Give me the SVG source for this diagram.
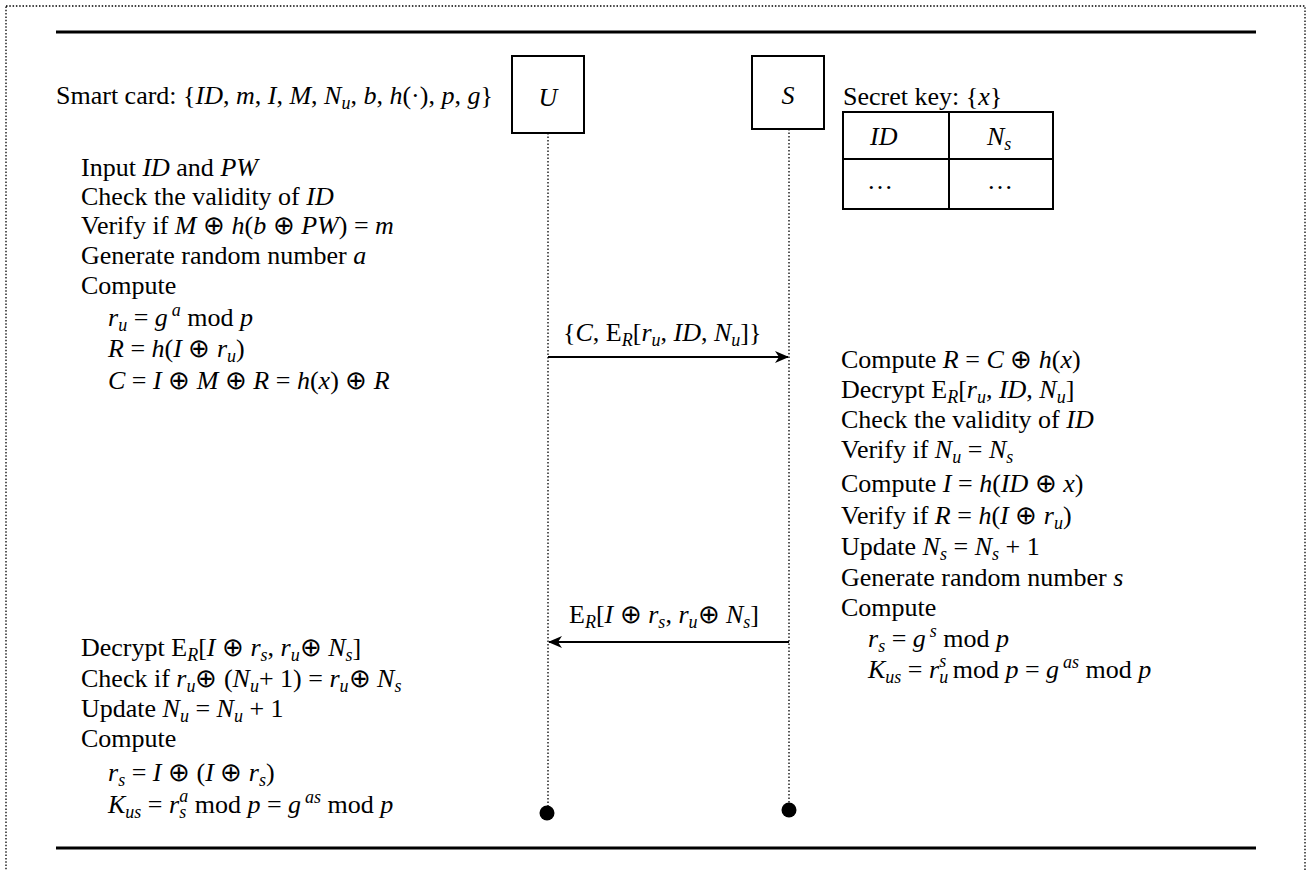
<svg xmlns="http://www.w3.org/2000/svg" width="1308" height="870" viewBox="0 0 1308 870">
<defs>
<style>
text{font-family:"Liberation Serif","Times New Roman",serif;font-size:26px;fill:#000}
.i{font-style:italic}
.s{font-size:18px}
.box{fill:#fff;stroke:#000;stroke-width:2}
.life{stroke:#000;stroke-width:1.3;stroke-dasharray:1.5 2;fill:none}
.msg{stroke:#000;stroke-width:2;fill:none}
.rule{stroke:#000;stroke-width:2.8}
</style>
<marker id="ah" viewBox="0 0 14 12" refX="13" refY="6" markerWidth="14" markerHeight="12" markerUnits="userSpaceOnUse" orient="auto">
<path d="M0,0 L14,6 L0,12 L4,6 Z" fill="#000"/>
</marker>
</defs>
<rect width="1308" height="870" fill="#fff"/>
<rect x="6" y="6" width="1299" height="880" fill="none" stroke="#000" stroke-width="1.3" stroke-dasharray="1.5 1.8"/>
<line class="rule" x1="56" y1="32" x2="1256" y2="32"/>
<line class="rule" x1="56" y1="848" x2="1256" y2="848"/>

<g id="connectors">
<line class="life" x1="548" y1="133" x2="548" y2="806"/>
<line class="life" x1="789" y1="129" x2="789" y2="803"/>
<line class="msg" x1="548" y1="357" x2="788" y2="357" marker-end="url(#ah)"/>
<line class="msg" x1="789" y1="642" x2="549" y2="642" marker-end="url(#ah)"/>
<circle cx="547" cy="813" r="7.5" fill="#000"/>
<circle cx="789" cy="810" r="7.5" fill="#000"/>
<text x="563" y="341">{<tspan class="i">C</tspan>, E<tspan class="i s" dy="5">R</tspan><tspan dy="-5">[</tspan><tspan class="i">r</tspan><tspan class="i s" dy="5">u</tspan><tspan dy="-5">, </tspan><tspan class="i">ID</tspan>, <tspan class="i">N</tspan><tspan class="i s" dy="5">u</tspan><tspan dy="-5">]}</tspan></text>
<text x="569" y="623">E<tspan class="i s" dy="5">R</tspan><tspan dy="-5">[</tspan><tspan class="i">I</tspan> ⊕ <tspan class="i">r</tspan><tspan class="i s" dy="5">s</tspan><tspan dy="-5">, </tspan><tspan class="i">r</tspan><tspan class="i s" dy="5">u</tspan><tspan dy="-5">⊕ </tspan><tspan class="i">N</tspan><tspan class="i s" dy="5">s</tspan><tspan dy="-5">]</tspan></text>
</g>

<g id="node-U">
<rect class="box" x="512" y="56" width="72" height="77"/>
<text x="548" y="106" text-anchor="middle" class="i">U</text>
</g>
<g id="node-S">
<rect class="box" x="752" y="56" width="72" height="73"/>
<text x="788" y="104" text-anchor="middle" class="i">S</text>
</g>

<g id="smart-card">
<text x="56" y="104">Smart card: {<tspan class="i">ID</tspan>, <tspan class="i">m</tspan>, <tspan class="i">I</tspan>, <tspan class="i">M</tspan>, <tspan class="i">N</tspan><tspan class="i s" dy="5">u</tspan><tspan dy="-5">, </tspan><tspan class="i">b</tspan>, <tspan class="i">h</tspan>(·), <tspan class="i">p</tspan>,  <tspan class="i">g</tspan>}</text>
</g>

<g id="secret-key">
<text x="843" y="105">Secret key: {<tspan class="i">x</tspan>}</text>
<rect class="box" x="843" y="112" width="210" height="97"/>
<line x1="843" y1="159" x2="1053" y2="159" stroke="#000" stroke-width="2"/>
<line x1="949" y1="112" x2="949" y2="209" stroke="#000" stroke-width="2"/>
<text x="870" y="145" class="i">ID</text>
<text x="987" y="145"><tspan class="i">N</tspan><tspan class="i s" dy="5">s</tspan></text>
<text x="867" y="189">…</text>
<text x="987" y="189">…</text>
</g>

<g id="user-step1">
<text x="81" y="176">Input <tspan class="i">ID</tspan> and <tspan class="i">PW</tspan></text>
<text x="81" y="205">Check the validity of <tspan class="i">ID</tspan></text>
<text x="81" y="234">Verify if <tspan class="i">M</tspan> ⊕ <tspan class="i">h</tspan>(<tspan class="i">b</tspan> ⊕ <tspan class="i">PW</tspan>) = <tspan class="i">m</tspan></text>
<text x="81" y="264">Generate random number <tspan class="i">a</tspan></text>
<text x="81" y="294">Compute</text>
<text x="108" y="326"><tspan class="i">r</tspan><tspan class="i s" dy="5">u</tspan><tspan dy="-5"> = </tspan><tspan class="i">g</tspan><tspan class="i s" dx="4" dy="-10">a</tspan><tspan dy="10"> mod </tspan><tspan class="i">p</tspan></text>
<text x="108" y="357"><tspan class="i">R</tspan> = <tspan class="i">h</tspan>(<tspan class="i">I</tspan> ⊕ <tspan class="i">r</tspan><tspan class="i s" dy="5">u</tspan><tspan dy="-5">)</tspan></text>
<text x="108" y="389"><tspan class="i">C</tspan> = <tspan class="i">I</tspan> ⊕ <tspan class="i">M</tspan> ⊕ <tspan class="i">R</tspan> = <tspan class="i">h</tspan>(<tspan class="i">x</tspan>) ⊕ <tspan class="i">R</tspan></text>
</g>

<g id="server-step">
<text x="841" y="368">Compute <tspan class="i">R</tspan> = <tspan class="i">C</tspan> ⊕ <tspan class="i">h</tspan>(<tspan class="i">x</tspan>)</text>
<text x="841" y="398">Decrypt E<tspan class="i s" dy="5">R</tspan><tspan dy="-5">[</tspan><tspan class="i">r</tspan><tspan class="i s" dy="5">u</tspan><tspan dy="-5">, </tspan><tspan class="i">ID</tspan>, <tspan class="i">N</tspan><tspan class="i s" dy="5">u</tspan><tspan dy="-5">]</tspan></text>
<text x="841" y="428">Check the validity of <tspan class="i">ID</tspan></text>
<text x="841" y="458">Verify if <tspan class="i">N</tspan><tspan class="i s" dy="5">u</tspan><tspan dy="-5"> = </tspan><tspan class="i">N</tspan><tspan class="i s" dy="5">s</tspan></text>
<text x="841" y="492">Compute <tspan class="i">I</tspan> = <tspan class="i">h</tspan>(<tspan class="i">ID</tspan> ⊕ <tspan class="i">x</tspan>)</text>
<text x="841" y="524">Verify if <tspan class="i">R</tspan> = <tspan class="i">h</tspan>(<tspan class="i">I</tspan> ⊕ <tspan class="i">r</tspan><tspan class="i s" dy="5">u</tspan><tspan dy="-5">)</tspan></text>
<text x="841" y="555">Update <tspan class="i">N</tspan><tspan class="i s" dy="5">s</tspan><tspan dy="-5"> = </tspan><tspan class="i">N</tspan><tspan class="i s" dy="5">s</tspan><tspan dy="-5"> + 1</tspan></text>
<text x="841" y="586">Generate random number <tspan class="i">s</tspan></text>
<text x="841" y="616">Compute</text>
<text x="868" y="647"><tspan class="i">r</tspan><tspan class="i s" dy="5">s</tspan><tspan dy="-5"> = </tspan><tspan class="i">g</tspan><tspan class="i s" dx="4" dy="-10">s</tspan><tspan dy="10"> mod </tspan><tspan class="i">p</tspan></text>
<text x="868" y="678"><tspan class="i">K</tspan><tspan class="i s" dy="5">us</tspan><tspan dy="-5"> = </tspan><tspan class="i">r</tspan><tspan class="i s" dy="5">u</tspan><tspan class="i s" dx="-9" dy="-16">s</tspan><tspan dy="11"> mod </tspan><tspan class="i">p</tspan> = <tspan class="i">g</tspan><tspan class="i s" dx="4" dy="-10">as</tspan><tspan dy="10"> mod </tspan><tspan class="i">p</tspan></text>
</g>

<g id="user-step2">
<text x="81" y="656">Decrypt E<tspan class="i s" dy="5">R</tspan><tspan dy="-5">[</tspan><tspan class="i">I</tspan> ⊕ <tspan class="i">r</tspan><tspan class="i s" dy="5">s</tspan><tspan dy="-5">, </tspan><tspan class="i">r</tspan><tspan class="i s" dy="5">u</tspan><tspan dy="-5">⊕ </tspan><tspan class="i">N</tspan><tspan class="i s" dy="5">s</tspan><tspan dy="-5">]</tspan></text>
<text x="81" y="687">Check if <tspan class="i">r</tspan><tspan class="i s" dy="5">u</tspan><tspan dy="-5">⊕ (</tspan><tspan class="i">N</tspan><tspan class="i s" dy="5">u</tspan><tspan dy="-5">+ 1) = </tspan><tspan class="i">r</tspan><tspan class="i s" dy="5">u</tspan><tspan dy="-5">⊕ </tspan><tspan class="i">N</tspan><tspan class="i s" dy="5">s</tspan></text>
<text x="81" y="717">Update <tspan class="i">N</tspan><tspan class="i s" dy="5">u</tspan><tspan dy="-5"> = </tspan><tspan class="i">N</tspan><tspan class="i s" dy="5">u</tspan><tspan dy="-5"> + 1</tspan></text>
<text x="81" y="747">Compute</text>
<text x="108" y="781"><tspan class="i">r</tspan><tspan class="i s" dy="5">s</tspan><tspan dy="-5"> = </tspan><tspan class="i">I</tspan> ⊕ (<tspan class="i">I</tspan> ⊕ <tspan class="i">r</tspan><tspan class="i s" dy="5">s</tspan><tspan dy="-5">)</tspan></text>
<text x="108" y="813"><tspan class="i">K</tspan><tspan class="i s" dy="5">us</tspan><tspan dy="-5"> = </tspan><tspan class="i">r</tspan><tspan class="i s" dy="5">s</tspan><tspan class="i s" dx="-7" dy="-16">a</tspan><tspan dy="11"> mod </tspan><tspan class="i">p</tspan> = <tspan class="i">g</tspan><tspan class="i s" dx="4" dy="-10">as</tspan><tspan dy="10"> mod </tspan><tspan class="i">p</tspan></text>
</g>
</svg>
